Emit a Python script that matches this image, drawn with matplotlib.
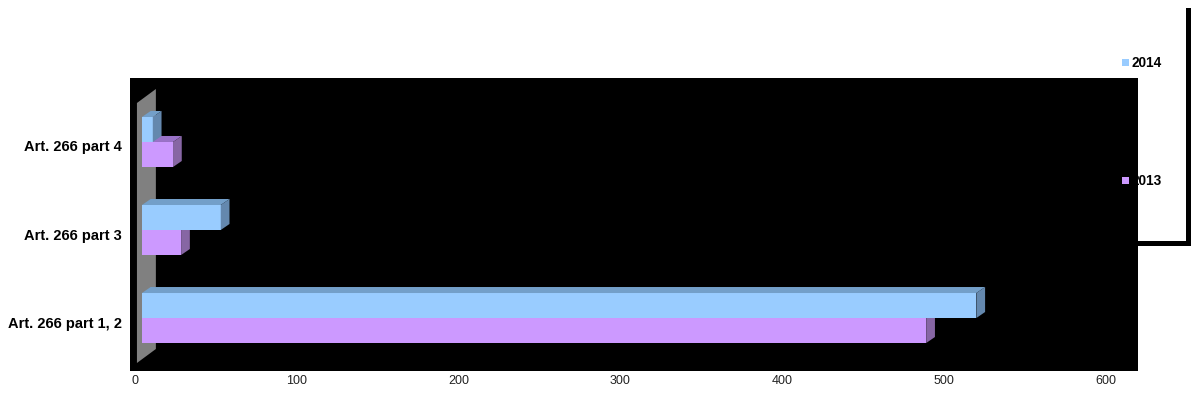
#!/usr/bin/env python3

import matplotlib
matplotlib.use("Agg")
import matplotlib.pyplot as plt
from matplotlib.patches import Polygon, Rectangle
from matplotlib.transforms import ScaledTranslation

categories = ["Art. 266 part 1, 2", "Art. 266 part 3", "Art. 266 part 4"]
values_2014 = [520, 53, 11]
values_2013 = [489, 28.5, 23.5]
x_ticks = [0, 100, 200, 300, 400, 500, 600]

W, H = 1192, 399
BASE = 4.3        # bars stand a little off the wall
BAR_H = 25 / 88
DX = 5.4          # 3d depth in value units
DY = 6 / 88       # 3d depth in category units

colours = {
    "2014": ("#99CCFF", "#739FC9", "#6488AE"),
    "2013": ("#CC99FF", "#9A72C8", "#8766A4"),
}


def draw_bars(ax, ys, vals, key):
    front, top, side = colours[key]
    ax.barh(ys, [v - BASE for v in vals], height=BAR_H, left=BASE, color=front, zorder=3)
    for y, v in zip(ys, vals):
        y_top = y + BAR_H / 2
        y_bot = y - BAR_H / 2
        ax.add_patch(Polygon([(BASE, y_top), (BASE + DX, y_top + DY), (v + DX, y_top + DY), (v, y_top)],
                             color=top, lw=0, zorder=3))
        ax.add_patch(Polygon([(v, y_bot), (v, y_top), (v + DX, y_top + DY), (v + DX, y_bot + DY)],
                             color=side, lw=0, zorder=3))


plt.rcParams["font.family"] = ["Liberation Sans", "DejaVu Sans"]

fig = plt.figure(figsize=(W / 100, H / 100), dpi=100, facecolor="white")
ax = fig.add_axes([130 / W, 1 - 371 / H, 1008 / W, 293 / H], facecolor="black")

ax.set_xlim(-3.09, 619.9)
ax.set_ylim(-0.602, 2.727)

# grey wall of the 3d chart
ax.add_patch(Polygon([(1.2, 2.443), (12.9, 2.602), (12.9, -0.352), (1.2, -0.511)],
                     color="#808080", lw=0, zorder=2))

pos = list(range(len(categories)))
draw_bars(ax, [p - BAR_H / 2 for p in pos], values_2013, "2013")
draw_bars(ax, [p + BAR_H / 2 for p in pos], values_2014, "2014")

ax.set_xticks(x_ticks)
ax.set_yticks(pos)
ax.set_yticklabels(categories, fontweight="bold", fontsize=10.5)
ax.tick_params(axis="x", length=0, labelsize=9, labelcolor="#222222", pad=3)
ax.tick_params(axis="y", length=0, pad=5.8)
# labels sit a bit lower than the bar groups
for lab in ax.get_yticklabels():
    lab.set_transform(lab.get_transform() + ScaledTranslation(0, -4 / 100, fig.dpi_scale_trans))
for s in ax.spines.values():
    s.set_visible(False)

# legend, the panel covers the first digit of 2013 so the text sits under it
legend_items = [("2014", 62.5), ("2013", 180.5)]
for label, y in legend_items:
    fig.text(1131 / W, 1 - (y + 0.5) / H, label, fontsize=9.8, fontweight="bold",
             ha="left", va="center", zorder=-1)
    fig.add_artist(Rectangle((1122 / W, 1 - (y + 3.5) / H), 7 / W, 7 / H,
                             transform=fig.transFigure, color=colours[label][0], lw=0, zorder=5))

# black frame remains at the right
fig.add_artist(Rectangle((1186 / W, 1 - 246 / H), 5 / W, 238 / H,
                         transform=fig.transFigure, color="black", lw=0, zorder=-1))
fig.add_artist(Rectangle((1138 / W, 1 - 246 / H), 53 / W, 5.5 / H,
                         transform=fig.transFigure, color="black", lw=0, zorder=-1))

fig.savefig("out.png", dpi=100)
